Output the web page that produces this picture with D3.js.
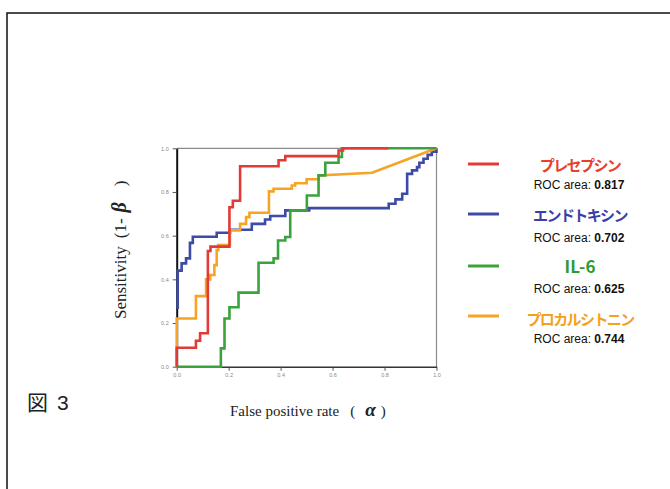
<!DOCTYPE html>
<html><head><meta charset="utf-8">
<script src="https://cdn.jsdelivr.net/npm/d3@7"></script>
<style>html,body{margin:0;padding:0;background:#fff;}svg{display:block;}</style>
</head><body>
<svg id="c" width="670" height="489"></svg>
<script>
// ---- data ----
const seriesNames = ["プレセプシン", "エンドトキシン", "IL-6", "プロカルシトニン"];
const rocAreas = ["0.817", "0.702", "0.625", "0.744"];
const seriesColors = ["#e23b36", "#3d4aa6", "#3aa33c", "#f6a326"];
const textColors = ["#e6402c", "#3b3ea6", "#2f9a2f", "#f4a11c"];
const tickValues = [0.0, 0.2, 0.4, 0.6, 0.8, 1.0];
const tickLabels = ["0.0", "0.2", "0.4", "0.6", "0.8", "1.0"];

// step vertices [fpr, sensitivity]
const presepsin = [[0,0],[0,0.087],[0.074,0.087],[0.074,0.119],[0.09,0.119],[0.09,0.153],[0.12,0.153],[0.12,0.53],[0.13,0.53],[0.13,0.55],[0.203,0.55],[0.203,0.73],[0.216,0.73],[0.216,0.76],[0.244,0.76],[0.244,0.918],[0.392,0.918],[0.392,0.945],[0.418,0.945],[0.418,0.964],[0.623,0.964],[0.623,0.99],[0.64,0.99],[0.64,1.0],[0.815,1.0]];
const endotoxin = [[0,0.27],[0.004,0.27],[0.004,0.44],[0.019,0.44],[0.019,0.473],[0.036,0.473],[0.036,0.496],[0.051,0.496],[0.051,0.567],[0.062,0.567],[0.062,0.595],[0.154,0.595],[0.154,0.613],[0.205,0.613],[0.205,0.627],[0.289,0.627],[0.289,0.654],[0.34,0.654],[0.34,0.674],[0.36,0.674],[0.36,0.69],[0.418,0.69],[0.418,0.716],[0.51,0.716],[0.51,0.726],[0.816,0.726],[0.816,0.746],[0.842,0.746],[0.842,0.766],[0.868,0.766],[0.868,0.792],[0.887,0.792],[0.887,0.883],[0.906,0.883],[0.906,0.899],[0.925,0.899],[0.925,0.914],[0.934,0.914],[0.934,0.934],[0.95,0.934],[0.95,0.952],[0.966,0.952],[0.966,0.97],[0.982,0.97],[0.982,0.985],[1.0,0.985],[1.0,1.0]];
const il6 = [[0,0],[0.17,0],[0.17,0.084],[0.184,0.084],[0.184,0.221],[0.203,0.221],[0.203,0.272],[0.238,0.272],[0.238,0.339],[0.315,0.339],[0.315,0.476],[0.373,0.476],[0.373,0.496],[0.39,0.496],[0.39,0.578],[0.418,0.578],[0.418,0.594],[0.437,0.594],[0.437,0.716],[0.501,0.716],[0.501,0.784],[0.546,0.784],[0.546,0.876],[0.572,0.876],[0.572,0.934],[0.623,0.934],[0.623,0.96],[0.636,0.96],[0.636,1.0],[1.0,1.0]];
const procalcitonin = [[0,0],[0,0.221],[0.074,0.221],[0.074,0.323],[0.113,0.323],[0.113,0.40],[0.129,0.40],[0.129,0.42],[0.145,0.42],[0.145,0.465],[0.154,0.465],[0.154,0.534],[0.16,0.534],[0.16,0.557],[0.205,0.557],[0.205,0.624],[0.244,0.624],[0.244,0.654],[0.267,0.654],[0.267,0.685],[0.28,0.685],[0.28,0.705],[0.355,0.705],[0.355,0.803],[0.373,0.803],[0.373,0.815],[0.443,0.815],[0.443,0.83],[0.456,0.83],[0.456,0.84],[0.5,0.84],[0.5,0.858],[0.546,0.858],[0.546,0.876],[0.752,0.888],[1.0,1.0]];

// ---- layout ----
const svg = d3.select("#c");
svg.append("rect").attr("x",7).attr("y",13).attr("width",700).attr("height",500)
  .attr("fill","#fff").attr("stroke","#111").attr("stroke-width",1.5);

const x = d3.scaleLinear().domain([0,1]).range([176.7, 436.5]);
const y = d3.scaleLinear().domain([0,1]).range([366.7, 148.3]);

// frame top/right
svg.append("path")
  .attr("d", `M${x(0)},${y(1)}H${x(1)}V${y(0)}`)
  .attr("fill","none").attr("stroke","#8a8a8a").attr("stroke-width",1.2);

const xAxis = svg.append("g").attr("transform",`translate(0,${y(0)})`)
  .call(d3.axisBottom(x).tickValues(tickValues).tickFormat((d,i)=>tickLabels[i]).tickSize(4).tickSizeOuter(0));
const yAxis = svg.append("g").attr("transform",`translate(${x(0)},0)`)
  .call(d3.axisLeft(y).tickValues(tickValues).tickFormat((d,i)=>tickLabels[i]).tickSize(4).tickSizeOuter(0));
xAxis.select(".domain").attr("stroke","#333").attr("stroke-width",1.4);
yAxis.select(".domain").attr("stroke","#111").attr("stroke-width",2);
[xAxis,yAxis].forEach(a=>{
  a.selectAll(".tick line").attr("stroke","#555").attr("stroke-width",1);
  a.selectAll(".tick text").attr("fill","#888").attr("font-size",5.5).attr("font-family","Arial, Liberation Sans, sans-serif");
});
xAxis.selectAll(".tick text").attr("dy","0.9em").attr("y",5);
yAxis.selectAll(".tick text").attr("x",-8);

// curves
const line = d3.line().x(d=>x(d[0])).y(d=>y(d[1]));
const curves = [endotoxin, procalcitonin, il6, presepsin];
const curveColors = [seriesColors[1], seriesColors[3], seriesColors[2], seriesColors[0]];
curves.forEach((c,i)=>{
  svg.append("path").datum(c).attr("d",line)
    .attr("fill","none").attr("stroke",curveColors[i]).attr("stroke-width",2.6)
    .attr("stroke-linejoin","miter");
});

// axis titles
const serif = "Liberation Serif, Times New Roman, serif";
const cjk = "Noto Sans CJK JP, sans-serif";
const yt = svg.append("text").attr("transform","translate(126,319) rotate(-90)")
  .attr("text-anchor","start").attr("font-family",serif)
  .attr("font-size",17).attr("fill","#222");
yt.append("tspan").text("Sensitivity");
yt.append("tspan").attr("dx",8).text("(1-");
yt.append("tspan").attr("dx",6).text("β").attr("font-weight","bold").attr("font-style","italic").attr("font-size",20);
yt.append("tspan").attr("dx",16).text(")");

const xt = svg.append("text").attr("x",230).attr("y",416)
  .attr("text-anchor","start").attr("font-family",serif)
  .attr("font-size",15).attr("fill","#222");
xt.append("tspan").text("False positive rate");
xt.append("tspan").attr("dx",11).text("(");
xt.append("tspan").attr("dx",10).text("α").attr("font-weight","bold").attr("font-style","italic").attr("font-size",19);
xt.append("tspan").attr("dx",5).text(")");

const fig = svg.append("text").attr("x",27).attr("y",410)
  .attr("font-family",cjk).attr("font-size",21).attr("fill","#222");
fig.append("tspan").text("図");
fig.append("tspan").text("3").attr("dx",9).attr("font-family","Liberation Sans, Arial, sans-serif");

// legend
const legY = [164, 214, 266, 316];
const titleY = [166, 216, 267, 320];
const rocY = [185, 238, 289, 339];
seriesNames.forEach((n,i)=>{
  svg.append("line").attr("x1",468).attr("x2",499).attr("y1",legY[i]).attr("y2",legY[i])
    .attr("stroke",seriesColors[i]).attr("stroke-width",3);
  svg.append("text").attr("x",580).attr("y",titleY[i]).attr("dy","0.35em")
    .attr("text-anchor","middle").attr("font-family",cjk)
    .attr("font-weight","bold").attr("font-size", i===2?17:15).attr("letter-spacing", i===2?0:-1.6)
    .attr("fill",textColors[i]).text(n);
  const t = svg.append("text").attr("x",579).attr("y",rocY[i]).attr("dy","0.35em")
    .attr("text-anchor","middle").attr("font-family","Liberation Sans, Arial, sans-serif")
    .attr("font-size",12).attr("fill","#111");
  t.append("tspan").text("ROC area: ");
  t.append("tspan").text(rocAreas[i]).attr("font-weight","bold");
});
</script>
</body></html>
